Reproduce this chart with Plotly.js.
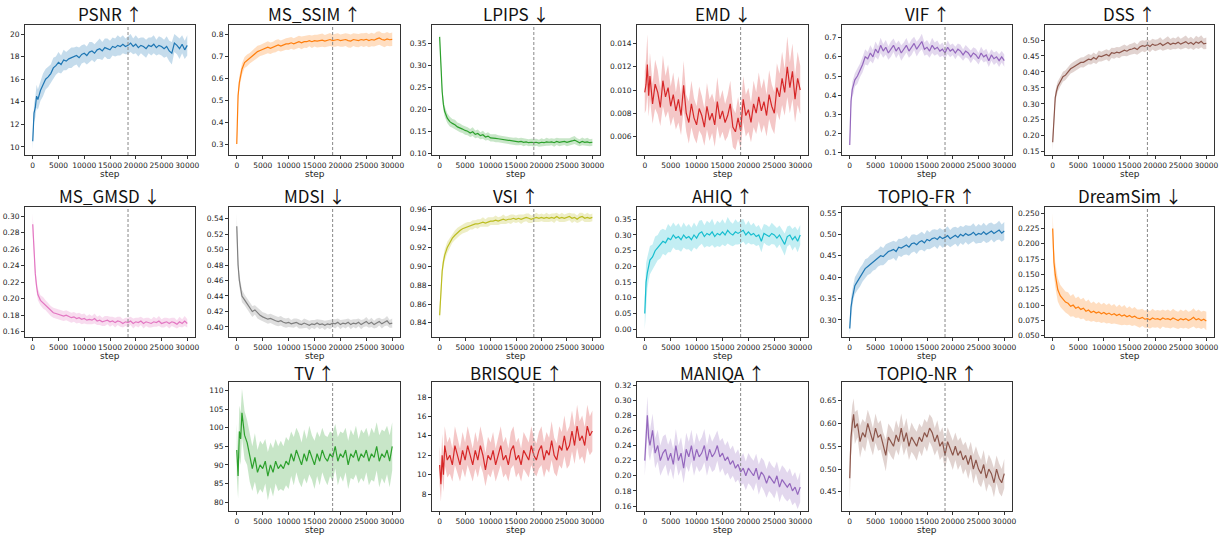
<!DOCTYPE html>
<html>
<head>
<meta charset="utf-8">
<script src="https://cdn.plot.ly/plotly-3.0.1.min.js"></script>
<style>html,body{margin:0;padding:0;background:#fff}#chart{width:1225px;height:537px}</style>
</head>
<body>
<div id="chart"></div>
<script>
const steps = [0,250,500,750,1000,
 1500,2000,2500,3000,3500,4000,4500,5000,
 5500,6000,6500,7000,7500,8000,8500,9000,9500,10000,
 10500,11000,11500,12000,12500,13000,13500,14000,14500,15000,
 15500,16000,16500,17000,17500,18000,18500,19000,19500,20000,
 20500,21000,21500,22000,22500,23000,23500,24000,24500,25000,
 25500,26000,26500,27000,27500,28000,28500,29000,29500,30000];
const xTicks = [0,5000,10000,15000,20000,25000,30000];
const markerStep = 18500;

const psnrMean = [10.5,13.0,13.5,14.5,14.2,
 15.0,15.5,16.0,16.2,16.5,17.0,17.2,17.5,
 17.3,17.7,17.6,17.8,17.9,18.0,18.1,17.9,18.2,18.3,
 18.1,18.4,18.5,18.3,18.6,18.7,18.5,18.8,18.7,18.6,
 18.9,18.8,19.0,18.9,19.1,18.9,19.0,19.2,18.9,19.1,
 18.8,19.0,18.9,18.7,19.0,18.9,19.1,18.8,19.0,18.9,
 18.7,18.9,18.5,18.3,19.2,19.0,18.7,19.1,18.6,19.0];
const psnrSpread = [0.7,0.8,0.9,1.0,0.9,
 0.9,1.0,0.9,0.9,0.8,0.9,0.8,0.9,
 0.8,0.9,0.8,0.8,0.9,0.8,0.8,0.9,0.8,0.8,
 0.8,0.9,0.8,0.8,0.8,0.9,0.8,0.8,0.9,0.8,
 0.8,0.8,0.9,0.8,0.8,0.7,0.8,0.8,0.7,0.8,
 0.8,0.7,0.8,0.8,0.7,0.8,0.8,0.7,0.8,0.8,
 0.8,0.9,0.9,1.0,0.8,0.8,0.9,0.8,0.8,0.9];

const ssimMean = [0.30,0.52,0.58,0.62,0.64,
 0.67,0.68,0.69,0.70,0.71,0.72,0.725,0.73,
 0.735,0.74,0.735,0.74,0.745,0.75,0.745,0.75,0.755,0.755,
 0.76,0.755,0.76,0.765,0.76,0.765,0.765,0.77,0.765,0.77,
 0.768,0.77,0.772,0.768,0.77,0.775,0.77,0.772,0.775,0.77,
 0.772,0.775,0.77,0.768,0.775,0.772,0.77,0.775,0.772,0.776,
 0.77,0.775,0.772,0.778,0.782,0.775,0.772,0.778,0.774,0.776];
const ssimSpread = [0.02,0.025,0.028,0.025,0.026,
 0.025,0.027,0.024,0.026,0.025,0.027,0.025,0.026,
 0.025,0.027,0.026,0.025,0.028,0.026,0.025,0.027,0.026,0.028,
 0.027,0.026,0.028,0.027,0.029,0.027,0.028,0.026,0.028,0.027,
 0.029,0.028,0.03,0.028,0.029,0.03,0.028,0.03,0.029,0.028,
 0.03,0.029,0.031,0.03,0.029,0.031,0.03,0.029,0.031,0.03,
 0.03,0.031,0.029,0.032,0.031,0.03,0.032,0.031,0.03,0.031];

const lpipsMean = [0.365,0.28,0.24,0.21,0.195,
 0.18,0.172,0.168,0.165,0.16,0.158,0.155,0.152,
 0.15,0.146,0.149,0.143,0.145,0.14,0.142,0.137,0.139,0.135,
 0.135,0.134,0.133,0.132,0.131,0.13,0.129,0.128,0.127,0.127,
 0.126,0.127,0.125,0.126,0.124,0.125,0.124,0.125,0.123,0.125,
 0.124,0.126,0.125,0.126,0.124,0.127,0.125,0.126,0.127,0.125,
 0.126,0.128,0.13,0.126,0.124,0.127,0.125,0.126,0.124,0.125];
const lpipsSpread = [0.01,0.012,0.012,0.012,0.012,
 0.011,0.011,0.01,0.011,0.01,0.01,0.009,0.01,
 0.009,0.009,0.01,0.009,0.009,0.008,0.009,0.008,0.009,0.008,
 0.008,0.009,0.008,0.008,0.008,0.009,0.008,0.008,0.008,0.009,
 0.008,0.008,0.009,0.008,0.008,0.008,0.009,0.008,0.008,0.009,
 0.008,0.009,0.008,0.008,0.009,0.008,0.009,0.008,0.008,0.009,
 0.008,0.009,0.009,0.008,0.008,0.009,0.008,0.009,0.008,0.008];

const emdMean = [0.0098,0.0105,0.0122,0.0095,0.0112,
 0.0088,0.0105,0.0098,0.0085,0.0108,0.0094,0.0102,0.0086,
 0.0096,0.0082,0.0092,0.0078,0.0104,0.0080,0.0072,0.0088,0.0076,0.0070,
 0.0084,0.0078,0.0068,0.0086,0.0074,0.0080,0.0070,0.0090,0.0075,0.0082,
 0.0072,0.0078,0.0088,0.0068,0.0064,0.0076,0.0065,0.0092,0.0078,0.0083,
 0.0072,0.0088,0.0080,0.0094,0.0082,0.0090,0.0078,0.0096,0.0086,0.0080,
 0.0102,0.0094,0.0110,0.0098,0.0120,0.0102,0.0116,0.0092,0.0110,0.0100];
const emdSpread = [0.0018,0.0022,0.0026,0.0018,0.0020,
 0.0017,0.0021,0.0019,0.0016,0.0022,0.0018,0.0020,0.0017,
 0.0019,0.0016,0.0020,0.0017,0.0021,0.0016,0.0018,0.0020,0.0017,0.0016,
 0.0019,0.0017,0.0016,0.0020,0.0018,0.0017,0.0019,0.0021,0.0017,0.0018,
 0.0016,0.0018,0.0020,0.0017,0.0016,0.0018,0.0016,0.0020,0.0018,0.0019,
 0.0017,0.0020,0.0018,0.0021,0.0019,0.0020,0.0018,0.0021,0.0019,0.0018,
 0.0021,0.0020,0.0023,0.0020,0.0026,0.0022,0.0024,0.0020,0.0023,0.0021];

const vifMean = [0.14,0.37,0.43,0.45,0.48,
 0.50,0.53,0.56,0.60,0.59,0.62,0.60,0.64,
 0.62,0.66,0.63,0.65,0.62,0.64,0.66,0.63,0.65,0.62,
 0.64,0.66,0.63,0.65,0.67,0.64,0.66,0.68,0.64,0.65,
 0.63,0.66,0.64,0.65,0.63,0.64,0.62,0.65,0.63,0.64,
 0.62,0.64,0.63,0.61,0.63,0.62,0.60,0.62,0.61,0.59,
 0.62,0.60,0.61,0.58,0.61,0.59,0.60,0.58,0.60,0.58];
const vifSpread = [0.03,0.04,0.04,0.04,0.035,
 0.04,0.035,0.04,0.04,0.035,0.04,0.035,0.04,
 0.035,0.04,0.035,0.038,0.035,0.04,0.035,0.038,0.035,0.04,
 0.035,0.038,0.035,0.04,0.035,0.038,0.035,0.04,0.035,0.038,
 0.035,0.04,0.035,0.035,0.032,0.035,0.03,0.035,0.032,0.03,
 0.032,0.03,0.033,0.03,0.032,0.03,0.033,0.03,0.032,0.03,
 0.033,0.03,0.032,0.033,0.03,0.032,0.03,0.033,0.03,0.032];

const dssMean = [0.18,0.27,0.32,0.34,0.355,
 0.37,0.385,0.39,0.40,0.41,0.415,0.42,0.425,
 0.43,0.43,0.435,0.44,0.438,0.445,0.44,0.45,0.448,0.452,
 0.455,0.45,0.46,0.458,0.462,0.46,0.465,0.468,0.465,0.47,
 0.472,0.475,0.47,0.478,0.482,0.48,0.485,0.48,0.487,0.483,
 0.485,0.49,0.483,0.488,0.492,0.486,0.49,0.488,0.493,0.487,
 0.49,0.495,0.488,0.492,0.486,0.494,0.49,0.496,0.488,0.49];
const dssSpread = [0.025,0.02,0.018,0.017,0.016,
 0.015,0.016,0.015,0.016,0.015,0.016,0.015,0.016,
 0.015,0.016,0.015,0.016,0.015,0.016,0.015,0.017,0.015,0.016,
 0.016,0.017,0.016,0.017,0.016,0.017,0.016,0.018,0.016,0.017,
 0.017,0.018,0.016,0.018,0.017,0.018,0.017,0.018,0.017,0.018,
 0.017,0.019,0.017,0.018,0.02,0.017,0.018,0.017,0.019,0.017,
 0.018,0.019,0.017,0.018,0.017,0.019,0.018,0.019,0.017,0.018];

const gmsdMean = [0.29,0.25,0.23,0.215,0.205,
 0.198,0.195,0.192,0.188,0.185,0.183,0.182,0.181,
 0.18,0.179,0.18,0.178,0.177,0.178,0.176,0.177,0.175,0.176,
 0.174,0.175,0.174,0.176,0.173,0.174,0.172,0.173,0.174,0.172,
 0.173,0.171,0.173,0.172,0.170,0.172,0.171,0.173,0.170,0.172,
 0.171,0.173,0.170,0.172,0.171,0.170,0.172,0.171,0.173,0.170,
 0.171,0.172,0.170,0.172,0.171,0.169,0.172,0.170,0.173,0.170];
const gmsdSpread = [0.013,0.008,0.007,0.007,0.007,
 0.006,0.007,0.006,0.006,0.006,0.006,0.006,0.006,
 0.006,0.006,0.006,0.006,0.006,0.006,0.006,0.006,0.006,0.006,
 0.005,0.006,0.005,0.006,0.005,0.006,0.005,0.006,0.005,0.006,
 0.005,0.006,0.005,0.006,0.005,0.005,0.006,0.005,0.006,0.005,
 0.006,0.005,0.006,0.005,0.006,0.005,0.006,0.005,0.006,0.005,
 0.006,0.005,0.006,0.005,0.006,0.005,0.006,0.005,0.006,0.005];

const mdsiMean = [0.53,0.48,0.46,0.45,0.44,
 0.435,0.43,0.425,0.42,0.422,0.418,0.415,0.413,
 0.412,0.41,0.411,0.409,0.408,0.407,0.408,0.406,0.405,0.406,
 0.404,0.405,0.406,0.404,0.403,0.405,0.404,0.402,0.404,0.403,
 0.405,0.403,0.404,0.402,0.404,0.403,0.405,0.404,0.406,0.403,
 0.405,0.404,0.406,0.403,0.405,0.404,0.406,0.403,0.405,0.407,
 0.404,0.406,0.403,0.405,0.407,0.404,0.406,0.408,0.404,0.405];
const mdsiSpread = [0.016,0.01,0.008,0.008,0.008,
 0.007,0.007,0.007,0.007,0.006,0.007,0.006,0.006,
 0.006,0.006,0.006,0.006,0.006,0.006,0.006,0.006,0.006,0.006,
 0.005,0.006,0.005,0.006,0.005,0.006,0.005,0.006,0.005,0.006,
 0.005,0.006,0.005,0.006,0.005,0.006,0.005,0.006,0.005,0.006,
 0.005,0.006,0.005,0.006,0.005,0.006,0.005,0.006,0.005,0.006,
 0.005,0.006,0.005,0.006,0.005,0.006,0.005,0.006,0.005,0.006];

const vsiMean = [0.848,0.88,0.895,0.905,0.912,
 0.92,0.925,0.93,0.933,0.936,0.938,0.94,0.941,
 0.942,0.943,0.944,0.945,0.945,0.946,0.947,0.946,0.947,0.948,
 0.948,0.949,0.948,0.949,0.95,0.949,0.95,0.95,0.951,0.95,
 0.951,0.95,0.951,0.952,0.951,0.95,0.951,0.952,0.951,0.952,
 0.951,0.952,0.951,0.952,0.951,0.953,0.951,0.952,0.951,0.952,
 0.953,0.951,0.952,0.95,0.952,0.953,0.951,0.952,0.951,0.952];
const vsiSpread = [0.01,0.008,0.007,0.006,0.006,
 0.006,0.005,0.005,0.005,0.005,0.005,0.005,0.005,
 0.005,0.004,0.005,0.004,0.005,0.004,0.005,0.004,0.005,0.004,
 0.004,0.005,0.004,0.004,0.005,0.004,0.004,0.005,0.004,0.004,
 0.004,0.005,0.004,0.004,0.005,0.004,0.004,0.005,0.004,0.004,
 0.004,0.005,0.004,0.004,0.005,0.004,0.004,0.005,0.004,0.004,
 0.004,0.005,0.004,0.004,0.005,0.004,0.004,0.005,0.004,0.004];

const ahiqMean = [0.05,0.15,0.18,0.20,0.22,
 0.23,0.25,0.26,0.27,0.28,0.275,0.29,0.285,
 0.30,0.29,0.295,0.285,0.30,0.29,0.295,0.285,0.30,0.29,
 0.305,0.31,0.295,0.305,0.30,0.31,0.295,0.305,0.30,0.31,
 0.30,0.315,0.305,0.30,0.31,0.305,0.31,0.315,0.30,0.31,
 0.30,0.305,0.295,0.30,0.28,0.305,0.30,0.295,0.305,0.30,
 0.29,0.30,0.285,0.27,0.295,0.30,0.285,0.295,0.28,0.30];
const ahiqSpread = [0.05,0.06,0.05,0.045,0.045,
 0.04,0.045,0.04,0.045,0.04,0.04,0.045,0.04,
 0.04,0.038,0.042,0.038,0.04,0.036,0.04,0.038,0.04,0.036,
 0.04,0.038,0.036,0.04,0.038,0.042,0.036,0.04,0.038,0.04,
 0.036,0.042,0.038,0.036,0.04,0.035,0.038,0.036,0.032,0.035,
 0.03,0.034,0.03,0.032,0.035,0.03,0.032,0.03,0.034,0.03,
 0.032,0.03,0.034,0.035,0.032,0.03,0.034,0.032,0.035,0.032];

const topiqFrMean = [0.28,0.33,0.35,0.37,0.38,
 0.39,0.40,0.41,0.42,0.425,0.43,0.435,0.44,
 0.445,0.45,0.448,0.455,0.46,0.462,0.465,0.46,0.47,0.468,
 0.472,0.475,0.47,0.478,0.48,0.476,0.482,0.485,0.48,0.488,
 0.485,0.49,0.492,0.488,0.495,0.49,0.493,0.497,0.49,0.495,
 0.498,0.493,0.5,0.496,0.502,0.498,0.5,0.505,0.498,0.502,
 0.5,0.506,0.5,0.504,0.508,0.502,0.506,0.51,0.503,0.508];
const topiqFrSpread = [0.015,0.02,0.02,0.02,0.02,
 0.02,0.022,0.02,0.022,0.02,0.022,0.02,0.022,
 0.02,0.022,0.02,0.022,0.02,0.021,0.02,0.022,0.02,0.021,
 0.02,0.022,0.02,0.021,0.02,0.022,0.02,0.021,0.02,0.022,
 0.02,0.021,0.02,0.022,0.02,0.021,0.02,0.022,0.02,0.021,
 0.02,0.022,0.02,0.021,0.02,0.022,0.02,0.021,0.02,0.022,
 0.02,0.021,0.02,0.022,0.02,0.021,0.02,0.022,0.02,0.021];

const dreamMean = [0.225,0.17,0.15,0.135,0.125,
 0.115,0.11,0.105,0.103,0.098,0.1,0.095,0.097,
 0.093,0.095,0.09,0.092,0.088,0.09,0.087,0.089,0.086,0.088,
 0.085,0.087,0.084,0.086,0.083,0.085,0.082,0.084,0.081,0.083,
 0.08,0.082,0.079,0.078,0.08,0.077,0.078,0.076,0.079,0.077,
 0.078,0.076,0.079,0.077,0.078,0.076,0.079,0.077,0.075,0.078,
 0.076,0.078,0.075,0.077,0.08,0.076,0.078,0.075,0.077,0.074];
const dreamSpread = [0.025,0.022,0.02,0.02,0.019,
 0.018,0.018,0.017,0.018,0.017,0.018,0.016,0.017,
 0.016,0.017,0.016,0.017,0.015,0.016,0.015,0.016,0.015,0.016,
 0.015,0.016,0.015,0.016,0.014,0.016,0.015,0.016,0.014,0.015,
 0.014,0.015,0.014,0.015,0.014,0.014,0.015,0.014,0.015,0.014,
 0.014,0.015,0.014,0.014,0.015,0.014,0.015,0.014,0.014,0.015,
 0.014,0.015,0.014,0.014,0.015,0.014,0.015,0.014,0.014,0.015];

const tvMean = [94,87,99,97,104,
 98,96,92,89,92,88,90,89,
 91,87,90,88,91,89,90,89,91,90,
 93,91,94,92,90,93,91,94,92,90,
 93,91,94,92,91,93,92,95,91,93,
 92,94,90,93,92,94,91,93,92,94,
 91,93,92,95,91,93,92,94,91,95];
const tvSpread = [7,6,7,7,6.5,
 6.5,6,6.5,6,6.5,6,6.5,6.5,
 6,6.5,6,6.5,6,6,6.5,6,6.5,6.5,
 6,6.5,6,6.5,6,6.5,6,6.5,6,6.5,
 6,6.5,6,6,6.5,6,6.5,6,6.5,6,
 6.5,6,6.5,6.5,6,6.5,6,6.5,6.5,6,
 6.5,7,6.5,6.5,7,6.5,7,6.5,7,6.5];

const brisqueMean = [11,9,12,10,13,
 11.5,12,11,13,12,11,12.5,11.5,
 13,12,11,12.5,11.5,13,12,10.5,12,11.5,
 12.5,11,12,13,11.5,12,11,12.5,13,11.5,
 12,11,12.5,12,11.5,13,12,11.5,12.5,13,
 11.5,12.5,12,13.5,12,11.5,13,12.5,14,12.5,
 13,14.5,13,15,13.5,14,13,15,14,14.5];
const brisqueSpread = [2.0,1.8,2.2,1.8,2.0,
 1.8,1.9,1.7,2.0,1.8,1.7,1.9,1.8,
 2.0,1.8,1.7,1.9,1.8,2.0,1.8,1.7,1.9,1.8,
 1.9,1.7,1.8,2.0,1.8,1.9,1.7,1.9,2.0,1.8,
 1.8,1.7,1.9,1.8,1.8,2.0,1.8,1.7,1.9,2.0,
 1.8,1.9,1.8,2.0,1.8,1.7,2.0,1.9,2.1,1.9,
 2.0,2.1,1.9,2.2,2.0,2.1,1.9,2.2,2.0,2.1];

const maniqaMean = [0.22,0.26,0.28,0.25,0.24,
 0.26,0.23,0.24,0.22,0.23,0.235,0.22,0.23,
 0.215,0.24,0.22,0.23,0.21,0.235,0.225,0.24,0.22,0.235,
 0.225,0.23,0.24,0.22,0.235,0.225,0.23,0.24,0.225,0.23,
 0.22,0.225,0.215,0.22,0.21,0.215,0.205,0.21,0.2,0.21,
 0.205,0.2,0.21,0.195,0.205,0.2,0.19,0.2,0.195,0.19,
 0.2,0.185,0.195,0.19,0.185,0.19,0.18,0.185,0.175,0.185];
const maniqaSpread = [0.02,0.025,0.025,0.022,0.02,
 0.022,0.02,0.021,0.02,0.022,0.02,0.021,0.02,
 0.02,0.022,0.02,0.021,0.02,0.022,0.02,0.021,0.02,0.022,
 0.02,0.021,0.022,0.02,0.021,0.02,0.022,0.02,0.021,0.02,
 0.02,0.021,0.02,0.02,0.019,0.02,0.019,0.02,0.019,0.02,
 0.019,0.02,0.019,0.02,0.019,0.02,0.019,0.02,0.019,0.02,
 0.019,0.02,0.019,0.02,0.019,0.02,0.019,0.02,0.019,0.02];

const topiqNrMean = [0.48,0.57,0.60,0.62,0.59,
 0.60,0.56,0.58,0.57,0.60,0.58,0.56,0.59,
 0.57,0.575,0.55,0.53,0.57,0.56,0.55,0.575,0.56,0.59,
 0.56,0.58,0.55,0.57,0.56,0.55,0.57,0.56,0.58,0.57,
 0.59,0.58,0.56,0.575,0.55,0.56,0.53,0.56,0.545,0.53,
 0.55,0.53,0.54,0.52,0.53,0.51,0.53,0.50,0.52,0.50,
 0.49,0.51,0.48,0.50,0.49,0.47,0.50,0.48,0.47,0.49];
const topiqNrSpread = [0.05,0.04,0.04,0.035,0.035,
 0.03,0.035,0.03,0.032,0.03,0.032,0.03,0.032,
 0.03,0.032,0.03,0.035,0.03,0.032,0.03,0.032,0.03,0.032,
 0.03,0.032,0.03,0.032,0.03,0.032,0.03,0.032,0.03,0.032,
 0.03,0.032,0.03,0.032,0.03,0.032,0.03,0.032,0.03,0.032,
 0.03,0.032,0.03,0.032,0.03,0.032,0.03,0.032,0.03,0.032,
 0.03,0.032,0.03,0.032,0.03,0.032,0.03,0.032,0.03,0.032];

const titles = ['PSNR \u2191\uFE0E','MS_SSIM \u2191\uFE0E','LPIPS \u2193\uFE0E','EMD \u2193\uFE0E','VIF \u2191\uFE0E','DSS \u2191\uFE0E',
 'MS_GMSD \u2193\uFE0E','MDSI \u2193\uFE0E','VSI \u2191\uFE0E','AHIQ \u2191\uFE0E','TOPIQ-FR \u2191\uFE0E','DreamSim \u2193\uFE0E',
 'TV \u2191\uFE0E','BRISQUE \u2191\uFE0E','MANIQA \u2191\uFE0E','TOPIQ-NR \u2191\uFE0E'];
const xLabel = 'step';

// layout: column pixel extents and row pixel extents
const colPx = [[25,195],[229,400],[432,600],[637,808],[842,1012],[1045,1214]];
const rowPx = [[25,155],[207,337],[382,511]];
const titleGap = [12, 12, 9.5];
const W = 1225, H = 537;

const panels = [
 {t:0, m:psnrMean, s:psnrSpread, c:'#1f77b4', r:[9.29,20.8], dt:2, f:'d', col:0, row:0},
 {t:1, m:ssimMean, s:ssimSpread, c:'#ff7f0e', r:[0.25,0.841], dt:0.1, f:'.1f', col:1, row:0},
 {t:2, m:lpipsMean, s:lpipsSpread, c:'#2ca02c', r:[0.096,0.392], dt:0.05, f:'.2f', col:2, row:0},
 {t:3, m:emdMean, s:emdSpread, c:'#d62728', r:[0.0044,0.0156], dt:0.002, f:'.3f', col:3, row:0},
 {t:4, m:vifMean, s:vifSpread, c:'#9467bd', r:[0.088,0.766], dt:0.1, f:'.1f', col:4, row:0},
 {t:5, m:dssMean, s:dssSpread, c:'#8c564b', r:[0.14,0.547], dt:0.05, f:'.2f', col:5, row:0},
 {t:6, m:gmsdMean, s:gmsdSpread, c:'#e377c2', r:[0.1536,0.311], dt:0.02, f:'.2f', col:0, row:1},
 {t:7, m:mdsiMean, s:mdsiSpread, c:'#7f7f7f', r:[0.387,0.555], dt:0.02, f:'.2f', col:1, row:1},
 {t:8, m:vsiMean, s:vsiSpread, c:'#bcbd22', r:[0.825,0.963], dt:0.02, f:'.2f', col:2, row:1},
 {t:9, m:ahiqMean, s:ahiqSpread, c:'#17becf', r:[-0.0245,0.389], dt:0.05, f:'.2f', col:3, row:1},
 {t:10, m:topiqFrMean, s:topiqFrSpread, c:'#1f77b4', r:[0.26,0.564], dt:0.05, f:'.2f', col:4, row:1},
 {t:11, m:dreamMean, s:dreamSpread, c:'#ff7f0e', r:[0.048,0.260], dt:0.025, f:'.3f', col:5, row:1},
 {t:12, m:tvMean, s:tvSpread, c:'#2ca02c', r:[77.6,112.3], dt:5, f:'d', col:1, row:2},
 {t:13, m:brisqueMean, s:brisqueSpread, c:'#d62728', r:[6.25,19.55], dt:2, f:'d', col:2, row:2},
 {t:14, m:maniqaMean, s:maniqaSpread, c:'#9467bd', r:[0.1534,0.324], dt:0.02, f:'.2f', col:3, row:2},
 {t:15, m:topiqNrMean, s:topiqNrSpread, c:'#8c564b', r:[0.408,0.691], dt:0.05, f:'.2f', col:4, row:2}
];

function rgba(hex, a){
  const n = parseInt(hex.slice(1),16);
  return 'rgba('+((n>>16)&255)+','+((n>>8)&255)+','+(n&255)+','+a+')';
}

const FONT = '"Noto Sans CJK JP", "Noto Sans", "DejaVu Sans", sans-serif';
const TICKFONT = '"DejaVu Sans", "Noto Sans", sans-serif';
const traces = [];
const layout = {
  width: W, height: H,
  margin: {l:0, r:0, t:0, b:0},
  paper_bgcolor: '#fff', plot_bgcolor: '#fff',
  showlegend: false,
  font: {family: FONT, color: '#222'},
  annotations: [], shapes: []
};

panels.forEach((p, i) => {
  const k = i === 0 ? '' : String(i+1);
  const xa = 'x'+k, ya = 'y'+k;
  const upper = p.m.map((v, j) => v + p.s[j]);
  const lower = p.m.map((v, j) => v - p.s[j]);
  traces.push({x: steps, y: upper, xaxis: xa, yaxis: ya, mode: 'lines', line: {width: 0, color: p.c}, hoverinfo: 'skip'});
  traces.push({x: steps, y: lower, xaxis: xa, yaxis: ya, mode: 'lines', line: {width: 0, color: p.c}, fill: 'tonexty', fillcolor: rgba(p.c, 0.26), hoverinfo: 'skip'});
  traces.push({x: steps, y: p.m, xaxis: xa, yaxis: ya, mode: 'lines', line: {width: 1.2, color: p.c}});

  const cx = colPx[p.col], ry = rowPx[p.row];
  const axCommon = {
    showline: true, mirror: true, linecolor: '#333', linewidth: 1,
    ticks: 'outside', ticklen: 3, tickwidth: 1, tickcolor: '#333',
    tickfont: {size: 7.5, color: '#222', family: TICKFONT},
    showgrid: false, zeroline: false, fixedrange: true
  };
  layout['xaxis'+k] = Object.assign({}, axCommon, {
    domain: [cx[0]/W, cx[1]/W], anchor: ya,
    range: [-1500, 31500], tickvals: xTicks, ticktext: xTicks.map(String), tickangle: 0
  });
  layout['yaxis'+k] = Object.assign({}, axCommon, {
    domain: [1 - ry[1]/H, 1 - ry[0]/H], anchor: xa,
    range: p.r, dtick: p.dt, tick0: 0, tickformat: p.f
  });
  layout.annotations.push({
    text: titles[p.t], xref: 'paper', yref: 'paper',
    x: (cx[0]+cx[1])/2/W, y: 1 - (ry[0]-titleGap[p.row])/H, xanchor: 'center', yanchor: 'middle',
    showarrow: false, font: {size: 17, color: '#111', family: FONT}
  });
  layout.annotations.push({
    text: xLabel, xref: 'paper', yref: 'paper',
    x: (cx[0]+cx[1])/2/W, y: 1 - (ry[1]+18.5)/H, xanchor: 'center', yanchor: 'middle',
    showarrow: false, font: {size: 9, color: '#222', family: TICKFONT}
  });
  layout.shapes.push({
    type: 'line', xref: xa, yref: ya + ' domain', x0: markerStep, x1: markerStep, y0: 0, y1: 1,
    line: {color: '#888', width: 1, dash: '3px,2px'}
  });
});

Plotly.newPlot('chart', traces, layout, {displayModeBar: false, staticPlot: true});
</script>
</body>
</html>
